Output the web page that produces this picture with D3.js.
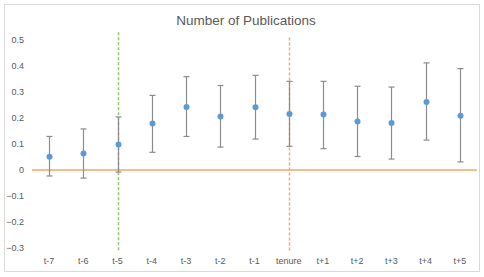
<!DOCTYPE html>
<html><head><meta charset="utf-8">
<script src="https://cdn.jsdelivr.net/npm/d3@7"></script>
<style>body{margin:0;background:#fff;} text{font-family:"Liberation Sans",Arial,sans-serif;fill:#595959;}</style>
</head><body>
<svg id="c" width="484" height="277"></svg>
<script>
const categories = ["t-7","t-6","t-5","t-4","t-3","t-2","t-1","tenure","t+1","t+2","t+3","t+4","t+5"];
const means = [0.051,0.063,0.098,0.179,0.242,0.206,0.241,0.215,0.213,0.187,0.181,0.262,0.209];
const upper = [0.129,0.158,0.204,0.287,0.359,0.325,0.364,0.341,0.341,0.322,0.319,0.412,0.390];
const lower = [-0.023,-0.031,-0.008,0.068,0.129,0.088,0.119,0.091,0.082,0.052,0.042,0.115,0.031];
const yTicks = [-0.3,-0.2,-0.1,0,0.1,0.2,0.3,0.4,0.5];
const markers = [{cat:"t-5", color:"#8cc86c", top:0.53}, {cat:"tenure", color:"#f5a878", top:0.51}];
const title = "Number of Publications";

const svg = d3.select("#c");
svg.append("rect").attr("x",4.5).attr("y",4.5).attr("width",475).attr("height",267)
  .attr("fill","#fff").attr("stroke","#d9d9d9");

const x = d3.scaleBand().domain(categories).range([32,477]);
const y = d3.scaleLinear().domain([-0.3,0.5]).range([248,40]);
const cx = c => Math.round(x(c) + x.bandwidth()/2) + 0.5;

svg.append("text").attr("x",246).attr("y",25).attr("text-anchor","middle")
  .style("font-size","13.5px").text(title);

const yAxis = svg.append("g").attr("transform","translate(27,0)")
  .call(d3.axisLeft(y).tickValues(yTicks).tickSize(0).tickFormat(d => d===0 ? "0" : d3.format(".1f")(d)));
yAxis.select(".domain").remove();
yAxis.selectAll("text").style("font-size","9px").style("fill","#595959").attr("dy","0.32em");

const xAxis = svg.append("g").attr("transform","translate(0,255)")
  .call(d3.axisBottom(x).tickSize(0));
xAxis.select(".domain").remove();
xAxis.selectAll("text").style("font-size","9px").style("fill","#595959").attr("dy","0.71em");

svg.append("line").attr("x1",32).attr("x2",477).attr("y1",y(0)).attr("y2",y(0))
  .attr("stroke","#f4a46c").attr("stroke-width",1.3);

markers.forEach(m => {
  svg.append("line").attr("x1",cx(m.cat)).attr("x2",cx(m.cat))
    .attr("y1",y(m.top)).attr("y2",y(-0.315))
    .attr("stroke",m.color).attr("stroke-width",1.5).attr("stroke-dasharray","3,2");
});

const g = svg.append("g");
categories.forEach((c,i) => {
  const px = cx(c);
  g.append("line").attr("x1",px).attr("x2",px).attr("y1",y(upper[i])).attr("y2",y(lower[i]))
    .attr("stroke","#8c8c8c").attr("stroke-width",1.2);
  [upper[i],lower[i]].forEach(v => {
    g.append("line").attr("x1",px-3).attr("x2",px+3).attr("y1",y(v)).attr("y2",y(v))
      .attr("stroke","#8c8c8c").attr("stroke-width",1.2);
  });
  g.append("circle").attr("cx",px).attr("cy",y(means[i])).attr("r",3).attr("fill","#5b9bd5");
});
</script>
</body></html>
